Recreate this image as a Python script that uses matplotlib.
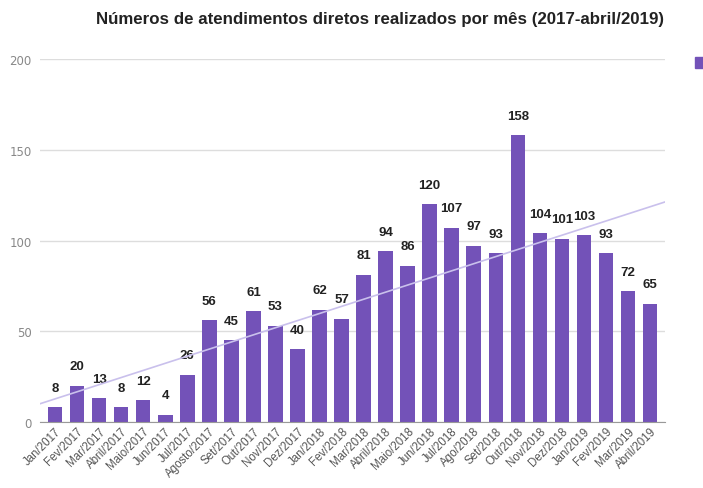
import numpy as np
import matplotlib.pyplot as plt
from matplotlib.patches import Patch

meses = ['Jan/2017', 'Fev/2017', 'Mar/2017', 'Abril/2017', 'Maio/2017', 'Jun/2017',
         'Jul/2017', 'Agosto/2017', 'Set/2017', 'Out/2017', 'Nov/2017', 'Dez/2017',
         'Jan/2018', 'Fev/2018', 'Mar/2018', 'Abril/2018', 'Maio/2018', 'Jun/2018',
         'Jul/2018', 'Ago/2018', 'Set/2018', 'Out/2018', 'Nov/2018', 'Dez/2018',
         'Jan/2019', 'Fev/2019', 'Mar/2019', 'Abril/2019']
atendimentos = [8, 20, 13, 8, 12, 4, 26, 56, 45, 61, 53, 40, 62, 57, 81, 94, 86,
                120, 107, 97, 93, 158, 104, 101, 103, 93, 72, 65]

cor = '#7352b8'

fig = plt.figure(figsize=(7.03, 4.89), dpi=100)
ax = fig.add_axes([0.057, 0.135, 0.889, 0.742])

x = np.arange(len(meses))
ax.bar(x, atendimentos, width=0.66, color=cor, zorder=2)

for xi, v in zip(x, atendimentos):
    ax.text(xi, v + 7.5, str(v), ha='center', va='bottom', fontsize=9.5,
            fontweight='bold', color='#222222', family='Liberation Sans')

# linha de tendencia
xl = np.array([-0.68, 27.68])
a, b = np.polyfit(x, atendimentos, 1)
ax.plot(xl, a * xl + b, color='#c9c0ec', lw=1.2, zorder=3)

ax.set_xlim(-0.68, 27.68)
ax.set_ylim(0, 200)
ax.set_yticks([0, 50, 100, 150, 200])
ax.grid(axis='y', color='#dddddd', lw=1, zorder=0)
ax.set_axisbelow(True)
for s in ['top', 'right', 'left']:
    ax.spines[s].set_visible(False)
ax.spines['bottom'].set_color('#999999')
ax.tick_params(axis='y', length=0, labelsize=8.5, labelcolor='#888888', pad=6)
ax.tick_params(axis='x', length=0, pad=2)
ax.set_xticks(x)
ax.set_xticklabels(meses, rotation=45, ha='right', rotation_mode='anchor',
                   fontsize=8.3, color='#555555', family='Liberation Sans')

fig.suptitle('Números de atendimentos diretos realizados por mês (2017-abril/2019)',
             x=0.541, y=0.975, fontsize=12.2, fontweight='bold', color='#222222',
             family='Liberation Sans')

# legenda cortada na borda direita (so o quadrado aparece)
fig.legend(handles=[Patch(color=cor)], labels=[''], loc='upper left',
           bbox_to_anchor=(0.972, 0.905), frameon=False, handlelength=0.9,
           handleheight=0.9, fontsize=9)

fig.savefig('out.png', dpi=100)
